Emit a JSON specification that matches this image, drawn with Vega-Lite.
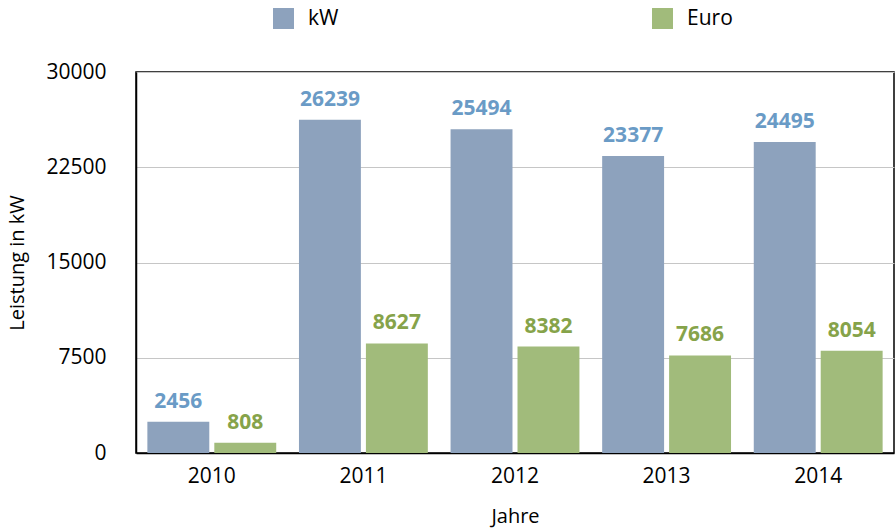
{
  "$schema": "https://vega.github.io/schema/vega-lite/v6.json",
  "width": 758,
  "height": 381,
  "autosize": "none",
  "padding": {"left": 136, "top": 72, "right": 2, "bottom": 79},
  "background": "white",
  "config": {
    "font": "Open Sans",
    "view": {"stroke": "#000000", "strokeWidth": 1.5},
    "axis": {"labelFont": "Open Sans", "titleFont": "Open Sans", "labelColor": "#000000", "titleColor": "#000000", "titleFontWeight": "normal"}
  },
  "data": {
    "values": [
      {"year": "2010", "series": "kW", "value": 2456},
      {"year": "2010", "series": "Euro", "value": 808},
      {"year": "2011", "series": "kW", "value": 26239},
      {"year": "2011", "series": "Euro", "value": 8627},
      {"year": "2012", "series": "kW", "value": 25494},
      {"year": "2012", "series": "Euro", "value": 8382},
      {"year": "2013", "series": "kW", "value": 23377},
      {"year": "2013", "series": "Euro", "value": 7686},
      {"year": "2014", "series": "kW", "value": 24495},
      {"year": "2014", "series": "Euro", "value": 8054}
    ]
  },
  "encoding": {
    "x": {
      "field": "year", "type": "nominal",
      "scale": {"paddingInner": 0.15, "paddingOuter": 0.075},
      "axis": {"title": "Jahre", "labelAngle": 0, "labelFontSize": 21, "titleFontSize": 20, "ticks": false, "labelPadding": 12, "titlePadding": 20, "domainColor": "#000000", "domainWidth": 1.5}
    },
    "xOffset": {
      "field": "series", "type": "nominal", "sort": ["kW", "Euro"],
      "scale": {"paddingInner": 0.075, "paddingOuter": 0}
    },
    "y": {
      "field": "value", "type": "quantitative",
      "scale": {"domain": [0, 30000], "nice": false},
      "axis": {"title": "Leistung in kW", "values": [0, 7500, 15000, 22500, 30000], "format": "d", "labelFontSize": 21, "titleFontSize": 20, "ticks": false, "labelPadding": 30, "titlePadding": 18, "gridColor": "#C6C6C6", "gridWidth": 1, "domainColor": "#000000", "domainWidth": 1.5}
    }
  },
  "layer": [
    {
      "mark": {"type": "bar"},
      "encoding": {
        "color": {
          "field": "series", "type": "nominal",
          "scale": {"domain": ["kW", "Euro"], "range": ["#8DA2BD", "#A1BB7B"]},
          "legend": {"title": null, "orient": "none", "legendX": 137, "legendY": -64, "direction": "horizontal", "symbolType": "square", "symbolSize": 440, "symbolStrokeWidth": 0, "labelFontSize": 21, "labelOffset": 14, "columnPadding": 313, "labelColor": "#000000", "labelFont": "Open Sans"}
        }
      }
    },
    {
      "mark": {"type": "text", "baseline": "middle", "dy": -20, "fontSize": 21, "fontWeight": "bold"},
      "encoding": {
        "text": {"field": "value", "type": "quantitative", "format": "d"},
        "color": {"condition": {"test": "datum.series === 'kW'", "value": "#6A9BC6"}, "value": "#86A34A"}
      }
    }
  ]
}
